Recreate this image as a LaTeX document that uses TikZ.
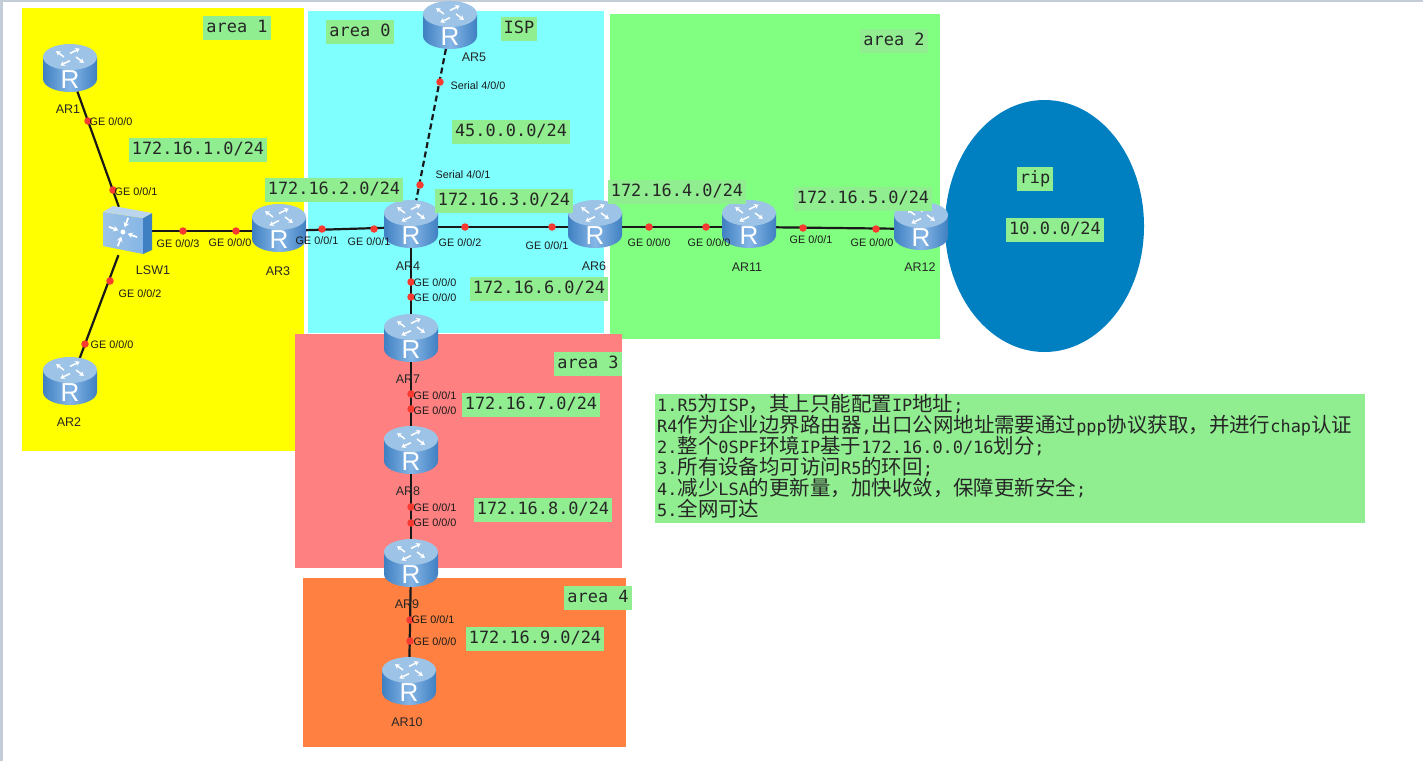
\documentclass[tikz,border=0pt]{standalone}
\usepackage{fontspec}
\setmainfont{Liberation Sans}
\newfontfamily\monofam{DejaVu Sans Mono}
\newfontfamily\cjk{Noto Sans CJK SC}
\usetikzlibrary{arrows.meta,shapes.geometric,calc}
\definecolor{areaone}{HTML}{FFFF00}
\definecolor{areazero}{HTML}{80FFFF}
\definecolor{areatwo}{HTML}{80FF80}
\definecolor{areathree}{HTML}{FF8080}
\definecolor{areafour}{HTML}{FF8040}
\definecolor{ripblue}{HTML}{0080C0}
\definecolor{notegreen}{HTML}{90EE90}
\definecolor{portred}{HTML}{F83A30}
\definecolor{routertop}{HTML}{9DC3E6}
\definecolor{routerside}{HTML}{3F80C2}
\definecolor{routermid}{HTML}{86B6E6}
\definecolor{framegray}{HTML}{C4CCD8}
\newcommand{\zh}[1]{{\cjk\fontsize{20.45}{21}\selectfont #1}}

\begin{document}
\begin{tikzpicture}[x=1pt,y=-1pt,
  areabox/.style={draw=none,inner sep=0pt,anchor=north west},
  note/.style={fill=notegreen,inner xsep=3pt,inner ysep=0pt,text height=13pt,text depth=4pt,minimum height=24pt,
    font=\monofam\fontsize{16.9}{20}\selectfont,text=black!85},
  port/.style={font=\fontsize{10.8}{12}\selectfont,inner sep=0pt,text=black!90},
  devname/.style={font=\fontsize{12.5}{14}\selectfont,inner sep=0pt,text=black!85},
  dot/.style={circle,fill=portred,inner sep=0pt,minimum size=7.5pt},
  link/.style={line width=2.2pt,draw=black!90},
  routerbody/.style={ellipse,minimum width=54pt,minimum height=42pt,inner sep=0pt},
  routerR/.style={font=\fontsize{26}{26}\selectfont,text=white,inner sep=0pt},
]
  \useasboundingbox (0,0) rectangle (1423,761);
  \fill[white] (0,0) rectangle (1423,761);
  \fill[framegray] (0,0) rectangle (1423,1.5);
  \fill[framegray] (0,0) rectangle (3,761);

  % areas
  \node[areabox,fill=areaone,minimum width=282pt,minimum height=443pt] (a1) at (22,8) {};
  \node[areabox,fill=areazero,minimum width=296pt,minimum height=322pt] (a0) at (308,11) {};
  \node[areabox,fill=areatwo,minimum width=330pt,minimum height=325pt] (a2) at (610,14) {};
  \node[areabox,fill=areathree,minimum width=327pt,minimum height=234pt] (a3) at (295,334) {};
  \node[areabox,fill=areafour,minimum width=323pt,minimum height=169pt] (a4) at (303,578) {};
  \node[ellipse,fill=ripblue,minimum width=199pt,minimum height=252pt,inner sep=0pt] (ripcloud) at (1044.5,226) {};

  % routers and switch
  \foreach \n/\x/\y in {ar1/70/68,ar2/70/381,ar3/279/228,ar4/411/224,ar5/450/25,ar6/595/224,ar7/411/338,ar8/411/450,ar9/411/563,ar10/409/681,ar11/749/224,ar12/921/226} {
    \node[routerbody] (\n) at (\x,\y+3) {};
  }
  \node[inner sep=0pt,minimum width=49pt,minimum height=48pt] (lsw1) at (127.5,231) {};

  % links
  \draw[link] (ar1) -- (lsw1);
  \draw[link] (lsw1) -- (ar2);
  \draw[link] (lsw1) -- (ar3);
  \draw[link] (ar3) -- (ar4);
  \draw[link] (ar4) -- (ar6);
  \draw[link] (ar6) -- (ar11);
  \draw[link] (ar11) -- (ar12);
  \draw[link] (ar4) -- (ar7);
  \draw[link] (ar7) -- (ar8);
  \draw[link] (ar8) -- (ar9);
  \draw[link] (ar9) -- (ar10);
  \draw[link,dash pattern=on 6pt off 3.5pt] (ar5) -- (ar4);

  % icons
  \foreach \n/\x/\y in {ar1/70/68,ar2/70/381,ar3/279/228,ar4/411/224,ar5/450/25,ar6/595/224,ar7/411/338,ar8/411/450,ar9/411/563,ar10/409/681,ar11/749/224,ar12/921/226} {
    \shade[left color=routerside,right color=routerside,middle color=routermid]
      (\x-27,\y-11) -- (\x-27,\y+11) arc[start angle=180,end angle=0,x radius=27,y radius=13] -- (\x+27,\y-11) -- cycle;
    \fill[routertop] (\x,\y-11) ellipse (27 and 13);
    \foreach \a in {35,125,215,305} {
      \begin{scope}[shift={(\x,\y-11)},yscale=0.6]
        \draw[white,line width=1.5pt,-{Stealth[length=4.5pt,width=5.5pt]}] (\a-35:6) -- (\a:17);
      \end{scope}
    }
    \node[routerR] (\n R) at (\x,\y+12) {R};
  }
  \shade[left color=routertop,right color=routermid] (103,212) -- (143,218) -- (143,254) -- (103,246) -- cycle;
  \fill[routerside] (143,218) -- (152,213) -- (152,250) -- (143,254) -- cycle;
  \fill[routertop!70!white] (103,212) -- (113,206) -- (152,213) -- (143,218) -- cycle;
  \foreach \a in {20,110,200,290} {
    \draw[white,line width=1.8pt,{Stealth[length=5pt,width=6pt]}-] ($(123,232)+(\a:5)$) -- ($(123,232)+(\a:15)$);
  }
  \fill[white] (123,232) circle (2.5);

  % device names
  \foreach \n/\x/\y/\t in {nar1/68/109/AR1,nar2/69/422/AR2,nar3/278/271/AR3,nar4/408/266/AR4,nar5/474/57/AR5,nar6/594/266/AR6,nar7/408/379/AR7,nar8/408/491/AR8,nar9/407/604/AR9,nar10/407/722/AR10,nar11/747/267/AR11,nar12/920/267/AR12,nlsw/153/270/LSW1} {
    \node[devname] (\n) at (\x,\y) {\t};
  }

  % port dots
  \foreach \x/\y [count=\i] in {88/121,113/190,183/231,236/231,110/281,85/344,322/229,374/229,440/82,420/185,465/227,552/227,411/282,411/297,649/227,706/227,803/228,876/229,411/394,411/409,411/507,411/523,410/620,410/641} {
    \node[dot] (dot\i) at (\x,\y) {};
  }

  % port labels
  \foreach \x/\y/\t [count=\i] in {111/122/GE 0\slash 0\slash 0,136/192/GE 0\slash 0\slash 1,178/244/GE 0\slash 0\slash 3,230/243/GE 0\slash 0\slash 0,140/294/GE 0\slash 0\slash 2,112/345/GE 0\slash 0\slash 0,317/241/GE 0\slash 0\slash 1,369/242/GE 0\slash 0\slash 1,478/86/Serial 4\slash 0\slash 0,463/175/Serial 4\slash 0\slash 1,460/243/GE 0\slash 0\slash 2,547/246/GE 0\slash 0\slash 1,435/283/GE 0\slash 0\slash 0,435/298/GE 0\slash 0\slash 0,649/243/GE 0\slash 0\slash 0,709/243/GE 0\slash 0\slash 0,811/240/GE 0\slash 0\slash 1,872/243/GE 0\slash 0\slash 0,435/396/GE 0\slash 0\slash 1,435/411/GE 0\slash 0\slash 0,435/508/GE 0\slash 0\slash 1,435/523/GE 0\slash 0\slash 0,433/620/GE 0\slash 0\slash 1,435/642/GE 0\slash 0\slash 0} {
    \node[port] (port\i) at (\x,\y) {\t};
  }

  % notes
  \foreach \x/\y/\t [count=\i] in {237/26/area 1,360/30/area 0,519/27/ISP,894/39/area 2,588/362/area 3,598/596/area 4,1035/177/rip,1055/228/10.0.0\slash 24,198/148/172.16.1.0\slash 24,334/188/172.16.2.0\slash 24,504/199/172.16.3.0\slash 24,677/190/172.16.4.0\slash 24,863/197/172.16.5.0\slash 24,539/287/172.16.6.0\slash 24,531/403/172.16.7.0\slash 24,543/508/172.16.8.0\slash 24,535/637/172.16.9.0\slash 24,511/130/45.0.0.0\slash 24} {
    \node[note] (note\i) at (\x,\y+1.5) {\t};
  }

  \node[areabox,fill=notegreen,minimum width=710pt,minimum height=129pt] (tasksbox) at (655,394) {};
  \node[anchor=west,text width=706pt,inner sep=0pt,align=left,text=black!85,
    font=\monofam\fontsize{16.9}{21}\selectfont] (tasks) at (657,456.5) {%
    1.R5\zh{为}ISP\zh{，其上只能配置}IP\zh{地址};\\
    R4\zh{作为企业边界路由器},\zh{出口公网地址需要通过}ppp\zh{协议获取，并进行}chap\zh{认证}\\
    2.\zh{整个}0SPF\zh{环境}IP\zh{基于}172.16.0.0/16\zh{划分};\\
    3.\zh{所有设备均可访问}R5\zh{的环回};\\
    4.\zh{减少}LSA\zh{的更新量，加快收敛，保障更新安全};\\
    5.\zh{全网可达}};
\end{tikzpicture}
\end{document}
